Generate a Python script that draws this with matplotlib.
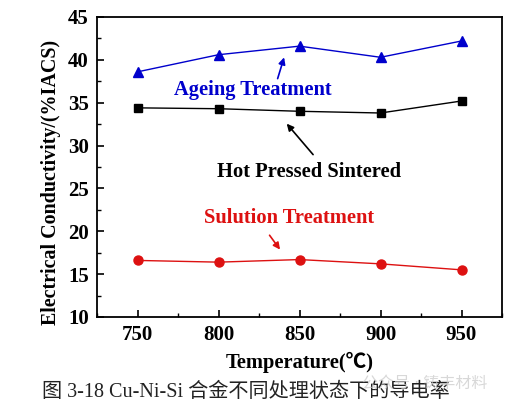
import matplotlib.pyplot as plt
from matplotlib.ticker import MultipleLocator

plt.rcParams['font.family'] = ['Liberation Serif', 'Noto Sans CJK SC']
plt.rcParams['font.weight'] = 'bold'

# Data
temps = [750, 800, 850, 900, 950]
ageing = [38.6, 40.6, 41.6, 40.3, 42.2]
hot_pressed = [34.4, 34.3, 34.0, 33.8, 35.2]
solution = [16.6, 16.4, 16.7, 16.2, 15.5]

fig = plt.figure(figsize=(5.11, 4.05), dpi=100)
ax = fig.add_axes([97 / 511, 1 - 317 / 405, 405 / 511, 300 / 405])

ax.plot(temps, ageing, color='#0000cc', marker='^', markersize=7, linewidth=1)
ax.plot(temps, hot_pressed, color='black', marker='s', markersize=6, linewidth=1)
ax.plot(temps, solution, color='#dd1111', marker='o', markersize=6.5, linewidth=1)

ax.set_xlim(725, 975)
ax.set_ylim(10, 45)
ax.xaxis.set_major_locator(MultipleLocator(50))
ax.xaxis.set_minor_locator(MultipleLocator(25))
ax.yaxis.set_major_locator(MultipleLocator(5))
ax.yaxis.set_minor_locator(MultipleLocator(2.5))
ax.tick_params(which='both', direction='in', top=False, right=False)
ax.tick_params(which='major', length=5, width=1.2, labelsize=15, pad=6)
ax.tick_params(which='minor', length=3, width=1)
for s in ax.spines.values():
    s.set_linewidth(1.3)

ax.set_xlabel('Temperature(℃)', fontsize=14.8, fontweight='bold', labelpad=5)
ax.set_ylabel('Electrical Conductivity/(%IACS)', fontsize=14.4, fontweight='bold')
ax.yaxis.set_label_coords(-0.09, 0.45)

# Annotations
ax.annotate('', xy=(841, 40.6), xytext=(836, 37.5),
            arrowprops=dict(arrowstyle='-|>', color='#0000cc', lw=1.2, mutation_scale=10))
ax.text(821, 36.5, 'Ageing Treatment', color='#0000cc', fontsize=14.8,
        fontweight='bold', ha='center', va='center')

ax.annotate('', xy=(841, 32.8), xytext=(859.5, 28.7),
            arrowprops=dict(arrowstyle='-|>', color='black', lw=1.2, mutation_scale=10))
ax.text(856, 26.9, 'Hot Pressed Sintered', color='black', fontsize=14.8,
        fontweight='bold', ha='center', va='center')

ax.annotate('', xy=(839, 17.6), xytext=(830.5, 19.8),
            arrowprops=dict(arrowstyle='-|>', color='#dd1111', lw=1.2, mutation_scale=10))
ax.text(843.5, 21.6, 'Sulution Treatment', color='#dd1111', fontsize=14.8,
        fontweight='bold', ha='center', va='center')

fig.text(246 / 511, 1 - 392 / 405, '图 3-18 Cu-Ni-Si 合金不同处理状态下的导电率',
         fontsize=14.5, fontweight='normal', ha='center', va='center', color='#222222')
fig.text(425 / 511, 1 - 385 / 405, '公众号 · 铸丰材料', fontsize=11.5, fontweight='normal',
         ha='center', va='center', color='#c8c8c8', alpha=0.7)

fig.savefig('out.png', dpi=100)
